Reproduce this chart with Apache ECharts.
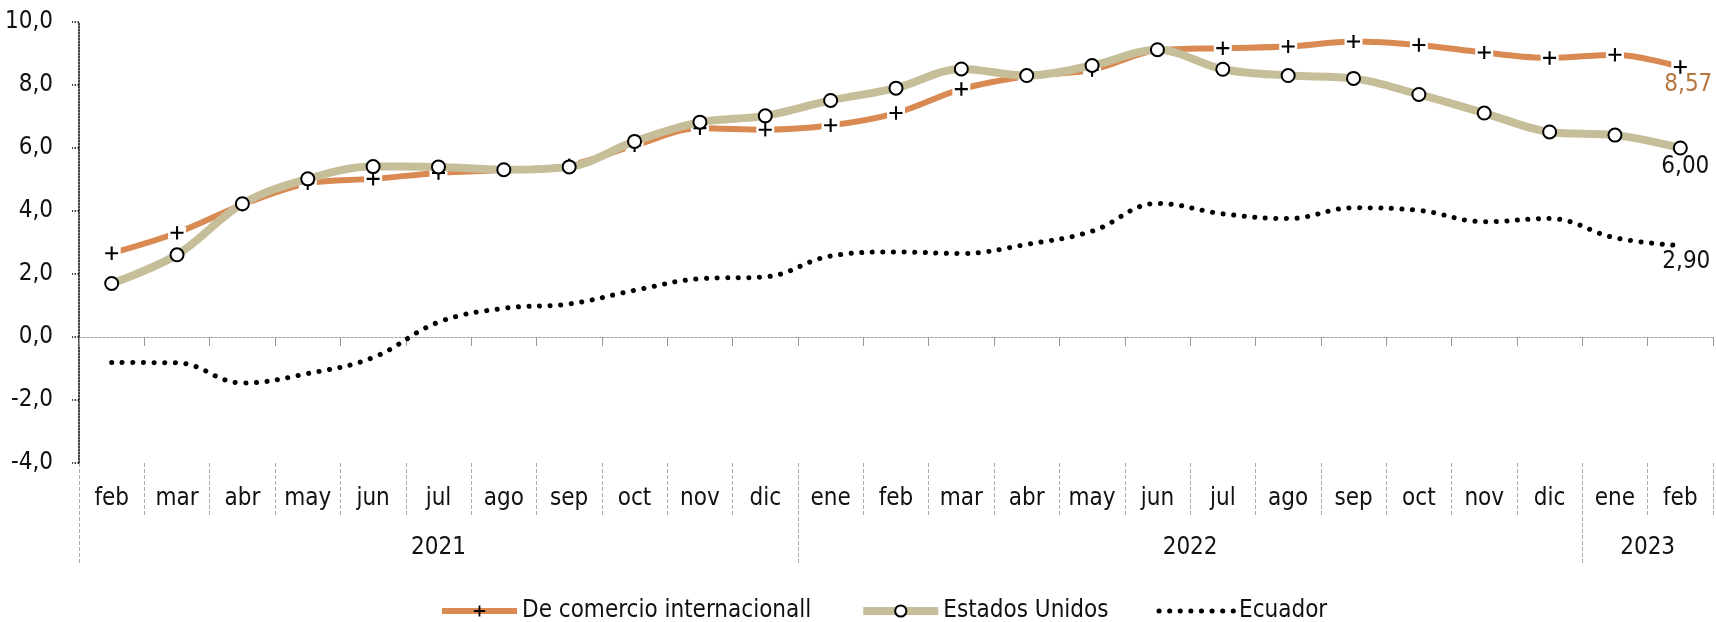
<!DOCTYPE html>
<html>
<head>
<meta charset="utf-8">
<script src="https://cdn.jsdelivr.net/npm/echarts@6/dist/echarts.min.js"></script>
<style>html,body{margin:0;padding:0;background:#fff}#c{width:1716px;height:622px}</style>
</head>
<body>
<div id="c"></div>
<script>
const months = ['feb','mar','abr','may','jun','jul','ago','sep','oct','nov','dic','ene','feb','mar','abr','may','jun','jul','ago','sep','oct','nov','dic','ene','feb'];
const years = ['2021','2022','2023'];
const yearMonthCounts = [11, 12, 2];
const comercio = [2.66, 3.31, 4.2, 4.88, 5.02, 5.21, 5.3, 5.45, 6.08, 6.63, 6.58, 6.72, 7.11, 7.87, 8.28, 8.48, 9.1, 9.17, 9.22, 9.38, 9.27, 9.03, 8.86, 8.96, 8.57];
const usa = [1.70, 2.61, 4.23, 5.02, 5.41, 5.40, 5.31, 5.40, 6.21, 6.82, 7.02, 7.51, 7.90, 8.51, 8.30, 8.62, 9.12, 8.50, 8.30, 8.21, 7.70, 7.11, 6.51, 6.41, 6.00];
const ecuador = [-0.81, -0.82, -1.46, -1.16, -0.65, 0.47, 0.91, 1.05, 1.48, 1.85, 1.91, 2.57, 2.70, 2.65, 2.94, 3.36, 4.24, 3.91, 3.76, 4.10, 4.02, 3.66, 3.76, 3.15, 2.90];
const names = ['De comercio internacionall', 'Estados Unidos', 'Ecuador'];

const FONT = "'DejaVu Sans Condensed','DejaVu Sans',sans-serif";
const FS = 24;
const fmt = v => v.toFixed(2).replace('.', ',');

const yearAxisData = new Array(months.length * 2 + 1).fill('');
const yearBounds = [0];
let start = 0;
years.forEach((y, i) => {
  yearAxisData[2 * start + yearMonthCounts[i]] = y;
  start += yearMonthCounts[i];
  yearBounds.push(2 * start);
});

const PLUS = 'path://M42,0H58V42H100V58H58V100H42V58H0V42H42Z';
const last = months.length - 1;
function withEndLabel(arr, color, offset) {
  return arr.map((v, i) => i === last ? {
    value: v,
    label: { show: true, position: 'inside', offset: offset, formatter: () => fmt(v),
      color: color, fontSize: FS, fontFamily: FONT }
  } : v);
}

const chart = echarts.init(document.getElementById('c'), null, { renderer: 'canvas' });
chart.setOption({
  animation: false,
  grid: { left: 79, top: 22, width: 1639.5, bottom: 159, containLabel: false },
  legend: {
    left: 434, top: 594, itemWidth: 75, itemHeight: 14, itemGap: 48,
    lineStyle: { width: 'inherit', type: 'inherit', cap: 'inherit' },
    textStyle: { fontSize: FS, fontFamily: FONT, color: '#111' },
    data: names
  },
  xAxis: [
    { type: 'category', data: months, position: 'bottom',
      axisLine: { onZero: true, lineStyle: { color: '#999', type: [2, 2], width: 1 } },
      axisTick: { show: true, length: 9, interval: 0, lineStyle: { color: '#999', width: 1 } },
      axisLabel: { show: false } },
    { type: 'category', data: months, position: 'bottom', gridIndex: 0,
      axisLine: { show: false, onZero: false },
      axisTick: { show: true, length: 52, interval: 0, lineStyle: { color: '#aaa', type: [4, 2], width: 1 } },
      axisLabel: { interval: 0, margin: 24, fontSize: FS, fontFamily: FONT, color: '#111' } },
    { type: 'category', data: yearAxisData, position: 'bottom', boundaryGap: false, gridIndex: 0,
      axisLine: { show: false, onZero: false },
      axisTick: { show: true, length: 100, interval: (i) => yearBounds.indexOf(i) >= 0 && i !== yearAxisData.length - 1,
        lineStyle: { color: '#aaa', type: [4, 2], width: 1 } },
      axisLabel: { interval: 0, margin: 73, fontSize: FS, fontFamily: FONT, color: '#111' } }
  ],
  yAxis: {
    type: 'value', min: -4, max: 10, interval: 2,
    splitLine: { show: false },
    axisLine: { show: true, lineStyle: { color: '#000', type: 'dotted', width: 1.5 } },
    axisTick: { show: true, length: 7, lineStyle: { color: '#000', type: 'dotted', width: 1.5 } },
    axisLabel: { margin: 26, fontSize: FS, fontFamily: FONT, color: '#111',
      formatter: v => v.toFixed(1).replace('.', ',') }
  },
  series: [
    { name: names[0], type: 'line', data: withEndLabel(comercio, '#B8763F', [8, 18]), smooth: 0.35,
      lineStyle: { color: '#D98A52', width: 6 },
      symbol: PLUS, symbolSize: 13, itemStyle: { color: '#000' }, z: 2 },
    { name: 'gap', type: 'line', data: comercio.slice(), smooth: 0.35, showSymbol: true, showAllSymbol: true,
      lineStyle: { width: 1, opacity: 0 }, silent: true,
      symbol: 'rect', symbolSize: [18, 12], itemStyle: { color: '#ffffff', opacity: 1 }, z: 5 },
    { name: 'plus', type: 'line', data: comercio.slice(), smooth: 0.35, showSymbol: true, showAllSymbol: true,
      lineStyle: { width: 1, opacity: 0 }, silent: true,
      symbol: PLUS, symbolSize: 13, itemStyle: { color: '#000' }, z: 6 },
    { name: names[1], type: 'line', data: withEndLabel(usa, '#111', [5, 19]), smooth: 0.35,
      lineStyle: { color: '#C6BE99', width: 8 },
      symbol: 'circle', symbolSize: 13,
      itemStyle: { color: '#fff', borderColor: '#000', borderWidth: 2 }, z: 7 },
    { name: names[2], type: 'line', data: withEndLabel(ecuador, '#111', [6, 16]), smooth: 0.4,
      lineStyle: { color: '#000', width: 5, type: [0.1, 10.5], cap: 'round' },
      symbol: 'circle', symbolSize: 0.1, showSymbol: true,
      itemStyle: { color: 'rgba(0,0,0,0)' }, z: 7 }
  ]
});
</script>
</body>
</html>
